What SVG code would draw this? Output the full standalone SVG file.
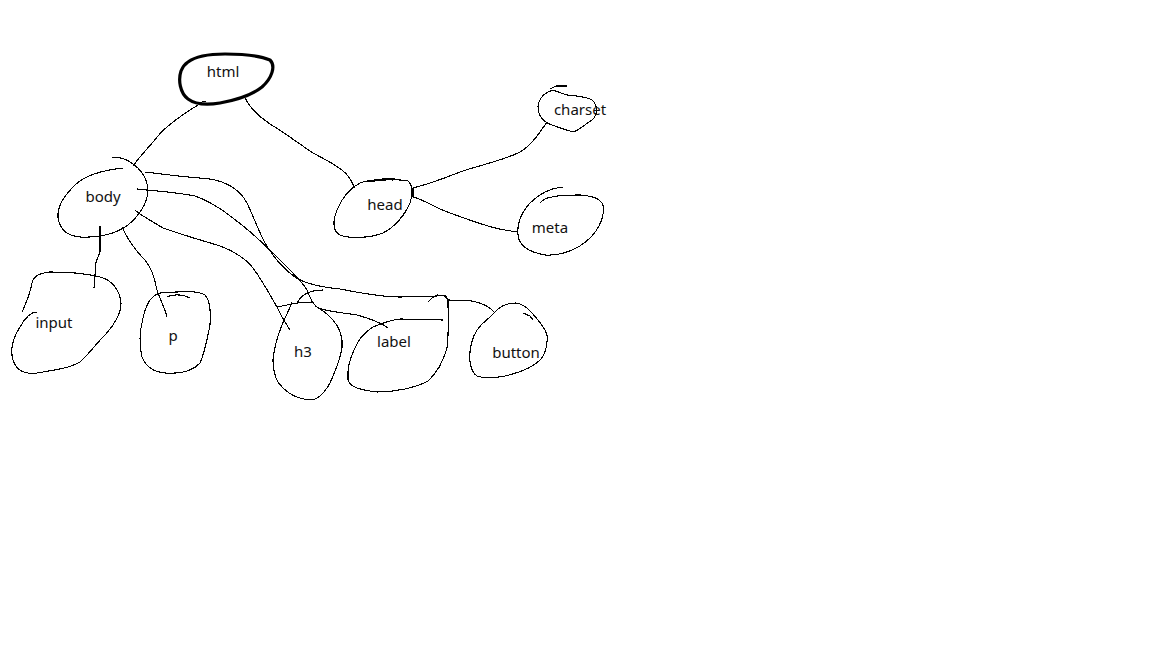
<svg xmlns="http://www.w3.org/2000/svg" width="1152" height="648" viewBox="0 0 1152 648">
<style>
.o{fill:none;stroke:#000;stroke-width:1.1;stroke-linejoin:round;stroke-linecap:round;shape-rendering:crispEdges}
.b{fill:none;stroke:#000;stroke-width:3.2;stroke-linejoin:round;stroke-linecap:round}
.t{font-family:"Noto Sans","Open Sans",sans-serif;font-size:15px;fill:#111;text-anchor:middle}
</style>
<rect width="1152" height="648" fill="#fff"/>
<g id="connectors">
<path class="o" d="M198 105 C185 113,168 124,158 136 C150 146,140 156,133 166"/>
<path class="o" d="M245 98 C250 108,258 116,270 124 C285 133,298 143,313 153 C328 161,342 168,348 176 C352 181,353 185,355 188"/>
<path class="o" d="M413 188 C425 185,440 180,460 172 C480 165,505 160,520 152 C532 145,540 132,547 122"/>
<path class="o" d="M413 188 L413 197"/>
<path class="o" d="M413 197 C425 200,435 208,450 213 C470 220,490 228,505 230 C512 231,515 232,517 232"/>
<path class="o" d="M100 226 L100 252 L96 262 L95 275 L94 288"/>
<path class="o" d="M122 227 C127 238,135 250,145 260 C152 268,155 280,157 290 C160 300,165 308,167 317"/>
<path class="o" d="M145 172 C160 174,185 177,210 179 C228 182,240 190,247 203 C253 215,258 230,265 243 C272 255,280 266,295 277 C305 284,320 287,340 289 C360 293,380 297,400 297 L437 296 L445 295 L448 300 L472 301 C482 303,490 306,495 313"/>
<path class="o" d="M137 189 C155 191,175 192,195 196 C215 203,232 217,248 230 C262 242,273 253,285 265 C295 275,303 283,307 290 C310 297,312 304,318 308 C330 312,345 313,357 315 C368 318,380 322,388 328"/>
<path class="o" d="M135 210 C140 215,150 220,163 228 C180 234,200 240,217 245 C232 250,245 258,253 268 C262 280,270 295,277 307 C282 318,287 325,290 330"/>
</g>
<g id="html">
<path class="b" d="M188 62 C196 56,210 54,225 54 C240 54,258 55,270 60 C276 66,272 78,262 87 C252 95,236 100,220 103 C208 105,196 105,188 99 C180 93,178 80,181 71 C183 66,185 64,188 62 Z"/>
<path class="o" d="M198 103 L206 101"/>
<text class="t" x="223" y="77">html</text>
</g>
<g id="body">
<path class="o" d="M123 168 C105 170,85 175,75 185 C65 195,57 205,58 218 C60 230,68 236,80 237 C95 238,115 235,128 225 C140 215,148 202,148 190 C147 178,140 168,130 162 C124 158,117 157,112 158"/>
<text class="t" x="103" y="202">body</text>
</g>
<g id="head">
<path class="o" d="M367 182 C380 180,398 179,408 181 C413 185,413 195,410 203 C405 215,395 227,383 233 C370 238,350 239,340 235 C332 231,333 220,337 210 C342 198,350 188,360 183 C368 180,380 179,393 180"/>
<path class="o" d="M382 179 L395 179"/>
<text class="t" x="385" y="210">head</text>
</g>
<g id="charset">
<path class="o" d="M553 90 C545 92,539 98,538 106 C538 115,543 122,552 125 C560 128,566 130,573 132 C580 130,585 124,592 120 C598 115,598 105,592 100 C585 96,575 96,567 95 C560 93,556 91,553 90 Z"/>
<path class="o" d="M550 89 L556 86 L567 86"/>
<text class="t" x="580" y="115">charset</text>
</g>
<g id="meta">
<path class="o" d="M563 187 C550 188,538 195,530 203 C521 213,517 225,518 235 C519 245,528 252,545 255 C560 256,578 250,590 238 C600 228,605 215,603 205 C600 198,592 196,580 195 C568 195,560 195,552 197 C546 198,542 200,540 203"/>
<text class="t" x="550" y="233">meta</text>
</g>
<g id="input">
<path class="o" d="M22 312 C26 303,30 295,32 283 C33 276,40 273,50 272 C65 272,85 273,100 277 C112 280,120 290,121 303 C121 315,114 325,105 335 C95 345,88 355,80 362 C70 368,55 370,37 373 C25 375,16 370,13 360 C10 350,13 338,20 327 C25 318,30 312,37 312"/>
<text class="t" x="54" y="328">input</text>
</g>
<g id="p">
<path class="o" d="M160 293 C150 296,146 305,143 318 C140 330,139 345,142 357 C146 367,153 372,165 373 C178 374,192 372,200 363 C205 352,207 340,210 325 C211 310,210 300,205 295 C198 291,188 291,177 292 C170 292,165 293,160 293"/>
<path class="o" d="M167 297 C172 294,183 294,190 298"/>
<text class="t" x="173" y="341">p</text>
</g>
<g id="h3">
<path class="o" d="M277 307 L297 303 L312 302"/>
<path class="o" d="M297 303 C300 297,305 293,313 291 L323 290"/>
<path class="o" d="M292 302 C289 310,285 318,282 325 C278 335,274 348,273 360 C273 372,276 382,283 388 C290 395,298 399,310 400 C318 400,325 392,330 383 C335 372,340 360,342 348 C343 338,340 328,333 320 C328 314,322 310,317 307"/>
<text class="t" x="303" y="357">h3</text>
</g>
<g id="label">
<path class="o" d="M443 320 L400 319 C392 320,382 323,373 327 C365 332,358 340,355 348 C350 358,347 368,348 380 C350 387,360 390,377 392 C395 392,415 388,428 381 C437 373,443 362,447 348 C449 335,448 315,448 300 C447 296,443 295,437 295 C432 297,430 300,428 302"/>
<text class="t" x="394" y="347">label</text>
</g>
<g id="button">
<path class="o" d="M495 312 C500 306,508 303,516 303 C523 304,528 308,532 313 C538 320,545 327,547 335 C548 345,545 355,540 360 C532 368,518 373,505 376 C495 378,485 379,477 376 C471 372,469 362,470 352 C471 340,476 330,482 324 C487 320,491 316,495 312"/>
<path class="o" d="M523 313 L530 316 L533 320"/>
<text class="t" x="516" y="358">button</text>
</g>
</svg>
